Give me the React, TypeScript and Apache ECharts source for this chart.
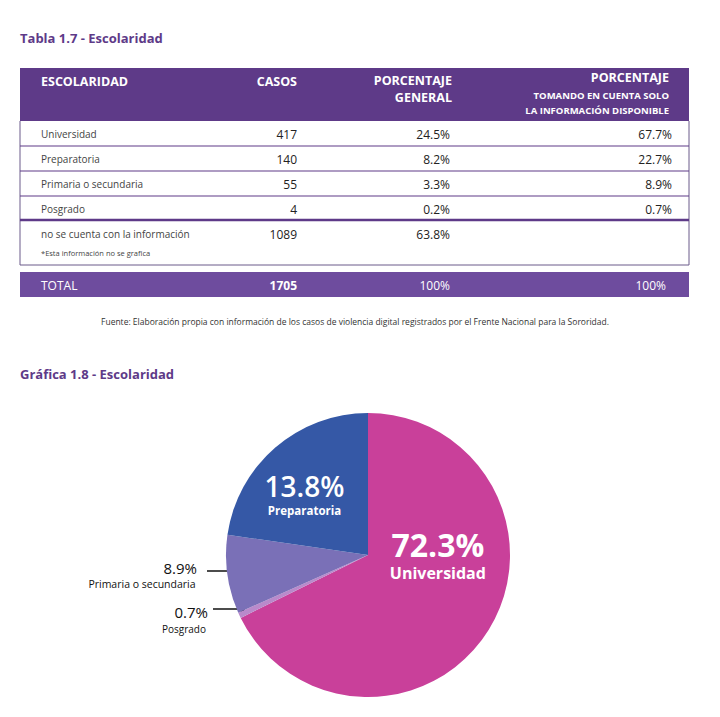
import React, { useEffect, useRef } from "react";
import * as echarts from "echarts";

const categories = ["Universidad", "Preparatoria", "Primaria o secundaria", "Posgrado", "no se cuenta con la información"];
const casos = [417, 140, 55, 4, 1089];
const pctGeneral = ["24.5%", "8.2%", "3.3%", "0.2%", "63.8%"];
const pctDisponible = ["67.7%", "22.7%", "8.9%", "0.7%", ""];
const totalCasos = 1705;
const totalPct = ["100%", "100%"];

// Pie (drawn in clockwise order from the top)
const pieNames = ["Universidad", "Posgrado", "Primaria o secundaria", "Preparatoria"];
const pieValues = [417, 4, 55, 140];
const pieLabels = ["72.3%", "0.7%", "8.9%", "13.8%"];
const pieColors = ["#C9409A", "#B98ACB", "#7A70B7", "#3558A6"];

const PURPLE = "#5E3A88";
const FONT = "Open Sans";

export default function App() {
  const ref = useRef<HTMLDivElement>(null);
  useEffect(() => {
    document.body.style.margin = "0";
    const chart = echarts.init(ref.current!, null, { renderer: "svg" });

    const g: any[] = [];
    const txt = (x: number, y: number, text: string, o: any = {}) =>
      g.push({
        type: "text",
        x,
        y,
        style: {
          text,
          fontFamily: FONT,
          fontSize: o.size || 11,
          fontWeight: o.weight || "normal",
          fill: o.color || "#333",
          align: o.align || "left",
          verticalAlign: "middle",
        },
      });

    // titles
    txt(20, 38, "Tabla 1.7 - Escolaridad", { size: 13, weight: "bold", color: PURPLE });
    txt(20, 374, "Gráfica 1.8 - Escolaridad", { size: 13, weight: "bold", color: PURPLE });

    // header
    g.push({ type: "rect", shape: { x: 20, y: 68, width: 669, height: 53 }, style: { fill: PURPLE } });
    const hw = { weight: "bold", color: "#fff", size: 12.5 };
    txt(41, 81, "ESCOLARIDAD", hw);
    txt(297, 81, "CASOS", { ...hw, align: "right" });
    txt(452, 80, "PORCENTAJE", { ...hw, align: "right" });
    txt(452, 97.5, "GENERAL", { ...hw, align: "right" });
    txt(669, 77, "PORCENTAJE", { ...hw, align: "right" });
    txt(669, 95, "TOMANDO EN CUENTA SOLO", { ...hw, size: 9.5, align: "right" });
    txt(669, 110, "LA INFORMACIÓN DISPONIBLE", { ...hw, size: 9.5, align: "right" });

    // body borders
    g.push({ type: "line", shape: { x1: 20, y1: 121, x2: 20, y2: 265 }, style: { stroke: "#6A5A8A", lineWidth: 1 } });
    g.push({ type: "line", shape: { x1: 689, y1: 121, x2: 689, y2: 265 }, style: { stroke: "#6A5A8A", lineWidth: 1 } });
    [146, 171, 196].forEach((y) =>
      g.push({ type: "line", shape: { x1: 20, y1: y, x2: 689, y2: y }, style: { stroke: PURPLE, lineWidth: 1.2 } })
    );
    g.push({ type: "line", shape: { x1: 20, y1: 220, x2: 689, y2: 220 }, style: { stroke: PURPLE, lineWidth: 2.5 } });
    g.push({ type: "line", shape: { x1: 20, y1: 265, x2: 689, y2: 265 }, style: { stroke: "#6A5A8A", lineWidth: 1 } });

    const rowY = [134, 159, 184, 209, 234];
    categories.forEach((c, i) => {
      const y = rowY[i];
      txt(41, y, c, { size: 10, color: "#444" });
      txt(297, y, String(casos[i]), { size: 12, color: "#222", align: "right" });
      txt(450, y, pctGeneral[i], { size: 12, color: "#222", align: "right" });
      if (pctDisponible[i]) txt(672, y, pctDisponible[i], { size: 12, color: "#222", align: "right" });
    });
    txt(41, 253, "*Esta información no se grafica", { size: 7.5, color: "#444" });

    // total
    g.push({ type: "rect", shape: { x: 20, y: 272, width: 669, height: 25 }, style: { fill: "#6E4C9E" } });
    txt(41, 285, "TOTAL", { size: 12, color: "#fff" });
    txt(297, 285, String(totalCasos), { size: 12, weight: "bold", color: "#fff", align: "right" });
    txt(450, 285, totalPct[0], { size: 12, color: "#fff", align: "right" });
    txt(666, 285, totalPct[1], { size: 12, color: "#fff", align: "right" });

    txt(355, 321, "Fuente: Elaboración propia con información de los casos de violencia digital registrados por el Frente Nacional para la Sororidad.", {
      size: 8.5,
      color: "#333",
      align: "center",
    });

    // outside pie labels
    txt(197, 568, pieLabels[2], { size: 15, color: "#111", align: "right" });
    txt(142, 584, pieNames[2], { size: 10.5, color: "#111", align: "center", weight: 500 });
    g.push({ type: "line", shape: { x1: 207, y1: 571, x2: 236, y2: 571 }, style: { stroke: "#111", lineWidth: 1.5 } });
    g.push({ type: "circle", shape: { cx: 236, cy: 571, r: 2.8 }, style: { fill: "#111" } });
    txt(208, 612, pieLabels[1], { size: 15, color: "#111", align: "right" });
    txt(184, 629, pieNames[1], { size: 10, color: "#111", align: "center", weight: 500 });
    g.push({ type: "line", shape: { x1: 213, y1: 609, x2: 242, y2: 609 }, style: { stroke: "#111", lineWidth: 1.5 } });
    g.push({ type: "circle", shape: { cx: 242, cy: 609, r: 2.8 }, style: { fill: "#111" } });

    const inside: Record<number, any> = {
      0: { offset: [7, -39], p: 32, n: 16, pw: "bold" },
      3: { offset: [-15, -5], p: 28, n: 11.5, pw: 600 },
    };

    const data = pieNames.map((name, i) => {
      const cfg = inside[i];
      return {
        name,
        value: pieValues[i],
        itemStyle: { color: pieColors[i] },
        label: cfg
          ? {
              show: true,
              position: "inside",
              offset: cfg.offset,
              formatter: `{p|${pieLabels[i]}}\n{n|${name}}`,
              rich: {
                p: { fontSize: cfg.p, fontWeight: cfg.pw, color: "#fff", fontFamily: FONT, lineHeight: cfg.p * 1.15 },
                n: { fontSize: cfg.n, fontWeight: "bold", color: "#fff", fontFamily: FONT, lineHeight: cfg.n * 1.35 },
              },
            }
          : { show: false },
        labelLine: { show: false },
      };
    });

    chart.setOption({
      animation: false,
      backgroundColor: "#fff",
      series: [
        {
          type: "pie",
          center: [368, 555],
          radius: [0, 142],
          startAngle: 90,
          clockwise: true,
          silent: true,
          itemStyle: { borderWidth: 0 },
          data,
        },
      ],
      graphic: g,
    });
    return () => chart.dispose();
  }, []);
  return <div ref={ref} style={{ width: 720, height: 717 }} />;
}
